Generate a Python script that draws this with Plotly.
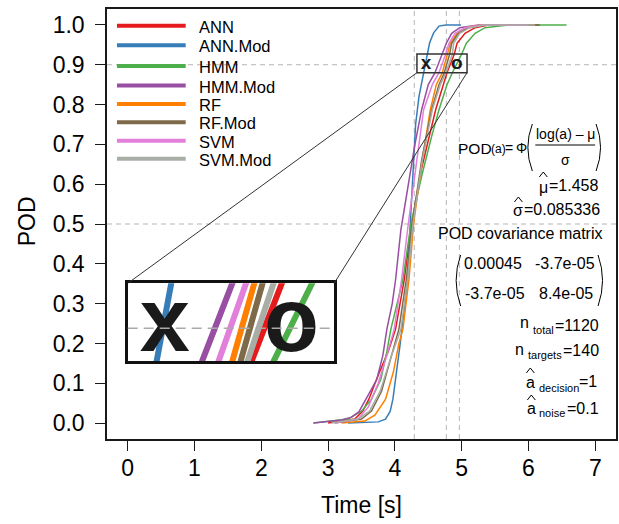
import plotly.graph_objects as go

# ---------------- data ----------------
series_names = ["ANN", "ANN.Mod", "HMM", "HMM.Mod", "RF", "RF.Mod", "SVM", "SVM.Mod"]
series_colors = ["#E41A1C", "#377EB8", "#4DAF4A", "#984EA3", "#FF7F00", "#7E6A48", "#E27FDB", "#A8ADA6"]

ann_t = [3.00, 3.40, 3.52, 3.61, 3.75, 3.90, 4.01, 4.14, 4.25, 4.40, 4.61, 4.72, 4.78, 4.89, 4.93, 5.05, 5.20, 5.40, 6.15]
ann_p = [0, 0.01, 0.03, 0.06, 0.12, 0.18, 0.236, 0.36, 0.50, 0.64, 0.787, 0.85, 0.88, 0.927, 0.954, 0.979, 0.993, 1.0, 1.0]

annmod_t = [3.30, 3.75, 3.86, 3.93, 3.97, 4.02, 4.08, 4.13, 4.19, 4.23, 4.27, 4.31, 4.36, 4.41, 4.435, 4.49, 4.52, 4.58, 4.66, 4.76, 4.99]
annmod_p = [0, 0.003, 0.01, 0.03, 0.06, 0.12, 0.20, 0.27, 0.36, 0.50, 0.62, 0.75, 0.82, 0.865, 0.88, 0.927, 0.955, 0.98, 0.997, 1.0, 1.0]

hmm_t = [2.78, 3.30, 3.50, 3.65, 3.79, 3.88, 3.94, 4.03, 4.12, 4.24, 4.40, 4.55, 4.66, 4.78, 4.86, 5.00, 5.07, 5.20, 5.35, 5.60, 5.75, 6.57]
hmm_p = [0, 0.01, 0.03, 0.06, 0.11, 0.18, 0.236, 0.30, 0.36, 0.50, 0.62, 0.72, 0.787, 0.85, 0.88, 0.927, 0.954, 0.979, 0.993, 0.998, 1.0, 1.0]

hmmmod_t = [2.78, 3.20, 3.35, 3.46, 3.60, 3.73, 3.82, 3.88, 3.96, 4.01, 4.09, 4.20, 4.30, 4.40, 4.50, 4.60, 4.71, 4.77, 4.85, 4.97, 5.25, 6.10]
hmmmod_p = [0, 0.008, 0.015, 0.028, 0.07, 0.11, 0.17, 0.236, 0.30, 0.36, 0.486, 0.60, 0.70, 0.787, 0.85, 0.88, 0.927, 0.954, 0.979, 0.993, 1.0, 1.0]

rf_t = [3.20, 3.55, 3.70, 3.86, 3.98, 4.06, 4.12, 4.21, 4.28, 4.40, 4.53, 4.62, 4.71, 4.79, 4.83, 4.93, 5.10, 5.30, 6.10]
rf_p = [0, 0.005, 0.02, 0.06, 0.13, 0.20, 0.236, 0.36, 0.50, 0.65, 0.787, 0.85, 0.88, 0.927, 0.954, 0.979, 0.995, 1.0, 1.0]

rfmod_t = [3.10, 3.50, 3.65, 3.80, 3.95, 4.06, 4.17, 4.26, 4.40, 4.55, 4.66, 4.74, 4.82, 4.85, 4.95, 5.10, 5.35, 6.17]
rfmod_p = [0, 0.01, 0.03, 0.08, 0.17, 0.236, 0.36, 0.50, 0.66, 0.787, 0.85, 0.88, 0.927, 0.954, 0.979, 0.993, 1.0, 1.0]

svm_t = [3.10, 3.45, 3.60, 3.75, 3.88, 3.99, 4.10, 4.20, 4.32, 4.43, 4.56, 4.66, 4.76, 4.81, 4.90, 5.05, 5.30, 6.00]
svm_p = [0, 0.01, 0.04, 0.10, 0.17, 0.236, 0.36, 0.50, 0.65, 0.787, 0.85, 0.88, 0.927, 0.954, 0.979, 0.993, 1.0, 1.0]

svmmod_t = [3.05, 3.45, 3.62, 3.78, 3.95, 4.09, 4.19, 4.27, 4.41, 4.56, 4.68, 4.765, 4.86, 4.88, 4.97, 5.12, 5.35, 6.10]
svmmod_p = [0, 0.01, 0.03, 0.08, 0.17, 0.236, 0.36, 0.50, 0.66, 0.787, 0.85, 0.88, 0.927, 0.954, 0.979, 0.993, 1.0, 1.0]

series_t = [ann_t, annmod_t, hmm_t, hmmmod_t, rf_t, rfmod_t, svm_t, svmmod_t]
series_p = [ann_p, annmod_p, hmm_p, hmmmod_p, rf_p, rfmod_p, svm_p, svmmod_p]

x_ticks = [0, 1, 2, 3, 4, 5, 6, 7]
y_ticks = [0.0, 0.1, 0.2, 0.3, 0.4, 0.5, 0.6, 0.7, 0.8, 0.9, 1.0]
h_ref_lines = [0.9, 0.5]
v_ref_lines = [4.29, 4.77, 4.965]
marker_labels = ["x", "o"]
marker_t = [4.465, 4.925]
marker_p = [0.9, 0.9]

# zoom window and where the magnified inset sits (main-axis data units)
zoom_x = [4.33, 5.08]
zoom_y = [0.880, 0.927]
inset_x = [0.0, 3.09]
inset_y = [0.155, 0.351]

mu_hat = "1.458"
sigma_hat = "0.085336"
cov_matrix = [["0.00045", "-3.7e-05"], ["-3.7e-05", "8.4e-05"]]
n_total = "1120"
n_targets = "140"
a_decision = "1"
a_noise = "0.1"

# ---------------- layout constants ----------------
W, H = 619, 524
ML, MR, MT, MB = 107, 1, 9, 85
PW, PH = W - ML - MR, H - MT - MB
XR = [-0.31, 7.31]
YR = [-0.04, 1.04]
FONT = "Liberation Sans, Arial, sans-serif"
INK = "#1a1a1a"
DASH = "#b5b5b5"


def ax(px):
    return (px - ML) / PW


def ay(py):
    return (H - MB - py) / PH


def dom_x(v):
    return (v - XR[0]) / (XR[1] - XR[0])


def dom_y(v):
    return (v - YR[0]) / (YR[1] - YR[0])


fig = go.Figure()

# main curves
for name, col, t, p in zip(series_names, series_colors, series_t, series_p):
    fig.add_trace(go.Scatter(x=t, y=p, mode="lines", name=name,
                             line=dict(color=col, width=1.5), showlegend=False,
                             xaxis="x", yaxis="y"))
# markers x / o
fig.add_trace(go.Scatter(x=marker_t, y=marker_p, mode="text", text=marker_labels,
                         textfont=dict(family=FONT, size=19, color=INK, weight="bold"),
                         showlegend=False, xaxis="x", yaxis="y"))

# magnified inset curves
for name, col, t, p in zip(series_names, series_colors, series_t, series_p):
    fig.add_trace(go.Scatter(x=t, y=p, mode="lines", name=name,
                             line=dict(color=col, width=6), showlegend=False,
                             xaxis="x2", yaxis="y2"))
fig.add_trace(go.Scatter(x=marker_t, y=marker_p, mode="text", text=marker_labels,
                         textfont=dict(family=FONT, size=90, color=INK, weight="bold"),
                         showlegend=False, xaxis="x2", yaxis="y2", cliponaxis=False))

shapes = []
# reference dashed lines
for yv in h_ref_lines:
    shapes.append(dict(type="line", xref="x domain", yref="y", x0=0, x1=1, y0=yv, y1=yv,
                       line=dict(color=DASH, width=1, dash="5px,4px"), layer="below"))
for xv in v_ref_lines:
    shapes.append(dict(type="line", xref="x", yref="y domain", x0=xv, x1=xv, y0=0, y1=1,
                       line=dict(color=DASH, width=1, dash="5px,4px"), layer="below"))
shapes.append(dict(type="line", xref="x2 domain", yref="y2", x0=0, x1=1, y0=0.9, y1=0.9,
                   line=dict(color="#aaaaaa", width=1.5, dash="10px,6px"), layer="above"))
# zoom window and connectors
shapes.append(dict(type="rect", xref="x", yref="y", x0=zoom_x[0], x1=zoom_x[1], y0=zoom_y[0], y1=zoom_y[1],
                   line=dict(color="#333", width=1.5)))
shapes.append(dict(type="line", xref="x", yref="y", x0=zoom_x[0], y0=zoom_y[0], x1=inset_x[0], y1=inset_y[1],
                   line=dict(color="#333", width=1)))
shapes.append(dict(type="line", xref="x", yref="y", x0=zoom_x[1], y0=zoom_y[0], x1=inset_x[1], y1=inset_y[1],
                   line=dict(color="#333", width=1)))

# legend (custom, R style)
leg_rows = [25.7, 45.3, 66.0, 85.5, 104.0, 122.3, 140.7, 158.7]
annotations = []
for name, col, ry in zip(series_names, series_colors, leg_rows):
    shapes.append(dict(type="line", xref="paper", yref="paper", x0=ax(117), x1=ax(186), y0=ay(ry), y1=ay(ry),
                       line=dict(color=col, width=4)))
    annotations.append(dict(text=name, xref="paper", yref="paper", x=ax(197), y=ay(ry + 1),
                            xanchor="left", yanchor="middle", showarrow=False,
                            font=dict(family=FONT, size=16.5, color="#000")))


def txt(s, px, py, anchor="center", size=16):
    annotations.append(dict(text=s, xref="paper", yref="paper", x=ax(px), y=ay(py),
                            xanchor=anchor, yanchor="middle", showarrow=False,
                            font=dict(family=FONT, size=size, color="#000")))


def paren(px_top, py_top, py_bot, bulge):
    mid = (py_top + py_bot) / 2
    return dict(type="path", xref="paper", yref="paper",
                path=f"M {ax(px_top)},{ay(py_top)} Q {ax(px_top + bulge)},{ay(mid)} {ax(px_top)},{ay(py_bot)}",
                line=dict(color="#000", width=1))


def hat(px, py):
    return dict(type="path", xref="paper", yref="paper",
                path=f"M {ax(px - 4)},{ay(py + 2)} L {ax(px)},{ay(py - 3)} L {ax(px + 4)},{ay(py + 2)}",
                line=dict(color="#000", width=1))


# formula
txt("POD", 476.5, 148, "center", 15.5)
txt("(a)", 500, 149, "center", 12)
txt("=", 511, 148, "center", 14)
txt("Φ", 523, 148, "center", 14)
shapes.append(paren(534, 124, 171, -9))
shapes.append(paren(598, 124, 171, 9))
txt("log(a) – μ", 567, 134, "center", 14)
shapes.append(dict(type="line", xref="paper", yref="paper", x0=ax(537), x1=ax(597), y0=ay(145), y1=ay(145),
                   line=dict(color="#000", width=1)))
txt("σ", 567, 160, "center", 14)

txt("μ", 545, 187)
shapes.append(hat(545, 175))
txt("=" + mu_hat, 602, 185, "right")
txt("σ", 520, 210)
shapes.append(hat(520, 200))
txt("=" + sigma_hat, 604, 209, "right")

txt("POD covariance matrix", 607, 233, "right")
shapes.append(paren(462, 255, 306, -9))
shapes.append(paren(600, 255, 306, 9))
txt(cov_matrix[0][0], 495, 263)
txt(cov_matrix[0][1], 567, 263)
txt(cov_matrix[1][0], 497, 293)
txt(cov_matrix[1][1], 568, 293)

txt("n", 526, 323)
txt("total", 533, 330, "left", 11)
txt("=" + n_total, 603, 325, "right")
txt("n", 521, 349)
txt("targets", 528, 355, "left", 11)
txt("=" + n_targets, 603, 350, "right")
txt("a", 532, 382)
shapes.append(hat(532, 371))
txt("decision", 539, 388, "left", 11)
txt("=" + a_decision, 601, 381, "right")
txt("a", 533, 408)
shapes.append(hat(533, 398))
txt("noise", 539, 413, "left", 11)
txt("=" + a_noise, 603, 408, "right")

# axis titles
annotations.append(dict(text="POD", xref="paper", yref="paper", x=ax(27), y=ay(221), textangle=-90,
                        xanchor="center", yanchor="middle", showarrow=False,
                        font=dict(family=FONT, size=23, color="#000")))
annotations.append(dict(text="Time [s]", xref="paper", yref="paper", x=ax(362), y=ay(505),
                        xanchor="center", yanchor="middle", showarrow=False,
                        font=dict(family=FONT, size=23, color="#000")))

fig.update_layout(
    width=W, height=H, margin=dict(l=ML, r=MR, t=MT, b=MB),
    paper_bgcolor="white", plot_bgcolor="white",
    font=dict(family=FONT, color="#000"),
    showlegend=False,
    shapes=shapes, annotations=annotations,
    xaxis=dict(range=XR, tickvals=x_ticks, ticktext=[str(v) for v in x_ticks],
               showgrid=False, zeroline=False, showline=True, mirror=True, linecolor=INK, linewidth=1.5,
               ticks="outside", ticklen=10, tickwidth=1.2, tickcolor=INK, ticklabelstandoff=-2,
               tickfont=dict(family=FONT, size=23, color="#000"), domain=[0, 1]),
    yaxis=dict(range=YR, tickvals=y_ticks, ticktext=[f"{v:.1f}" for v in y_ticks],
               showgrid=False, zeroline=False, showline=True, mirror=True, linecolor=INK, linewidth=1.5,
               ticks="outside", ticklen=10, tickwidth=1.2, tickcolor=INK, ticklabelstandoff=6,
               tickfont=dict(family=FONT, size=23, color="#000"), domain=[0, 1]),
    xaxis2=dict(range=zoom_x, domain=[dom_x(inset_x[0]), dom_x(inset_x[1])], anchor="y2",
                showgrid=False, zeroline=False, showticklabels=False, ticks="",
                showline=True, mirror=True, linecolor="#111", linewidth=2.5),
    yaxis2=dict(range=zoom_y, domain=[dom_y(inset_y[0]), dom_y(inset_y[1])], anchor="x2",
                showgrid=False, zeroline=False, showticklabels=False, ticks="",
                showline=True, mirror=True, linecolor="#111", linewidth=2.5),
)

fig.write_html("out.html")
